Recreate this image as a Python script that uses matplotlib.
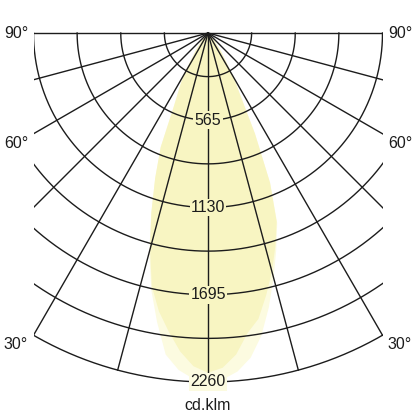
import numpy as np
import matplotlib
matplotlib.use("Agg")
import matplotlib.pyplot as plt
from matplotlib.patches import Rectangle

plt.rcParams['font.family'] = ['Liberation Sans', 'DejaVu Sans']

# polar grid data (cd/klm, degrees from nadir)
ring_values = [282.5, 565, 847.5, 1130, 1412.5, 1695, 1977.5, 2260]
ring_labels = ['565', '1130', '1695', '2260']
spoke_angles = list(range(-90, 91, 15))
angle_labels = ['90°', '60°', '30°']
angle_label_pos = [90, 60, 30]
r_max = 2260
half_width = 1130  # grid is cut at r_max * sin(30°)

# luminous intensity curves (degrees, cd/klm)
beam_angles = [-50, -45, -40, -35, -30, -27.5, -25, -22.5, -20, -17.5, -15, -12.5,
               -10, -7.5, -5, -2.5, 0, 2.5, 5, 7.5, 10, 12.5, 15, 17.5, 20,
               22.5, 25, 27.5, 30, 35, 40, 45, 50]
beam_outer = [0, 20, 60, 140, 320, 400, 520, 800, 1000, 1220, 1470, 1700,
              1900, 2100, 2190, 2240, 2260, 2245, 2200, 2120, 1990, 1820, 1640, 1470, 1310,
              1050, 720, 450, 330, 150, 60, 20, 0]
beam_inner = [0, 20, 60, 140, 320, 400, 520, 800, 1000, 1220, 1450, 1680,
              1830, 1950, 2070, 2160, 2200, 2170, 2090, 1960, 1880, 1740, 1600, 1450, 1300,
              1050, 720, 450, 330, 150, 60, 20, 0]

light = '#fcfbe0'
dark = '#f8f5c2'
ink = '#1c1c1c'

scale = 349 / 2260.0  # px per cd/klm
fig = plt.figure(figsize=(4.16, 4.16), dpi=100)
ax = fig.add_axes([0, 0, 1, 1])
ax.set_xlim(-208 / scale, 208 / scale)
ax.set_ylim(-(416 - 33) / scale, 33 / scale)
ax.axis('off')


def to_xy(ang, r):
    t = np.radians(np.asarray(ang, dtype=float))
    r = np.asarray(r, dtype=float)
    return r * np.sin(t), -r * np.cos(t)


# beam fills
for vals, col in [(beam_outer, light), (beam_inner, dark)]:
    x, y = to_xy(beam_angles, vals)
    ax.fill(np.r_[0, x, 0], np.r_[0, y, 0], color=col, lw=0, zorder=1)

clip = Rectangle((-half_width, -r_max - 50), 2 * half_width, r_max + 60,
                 transform=ax.transData)

# rings
th = np.linspace(-90, 90, 721)
for r in ring_values:
    x, y = to_xy(th, np.full_like(th, r))
    ln, = ax.plot(x, y, color=ink, lw=1.0, zorder=2)
    ln.set_clip_path(clip)

# spokes
for a in spoke_angles:
    x, y = to_xy([a, a], [0, r_max])
    ln, = ax.plot(x, y, color=ink, lw=1.0, zorder=2)
    ln.set_clip_path(clip)

# ring labels
for lab in ring_labels:
    v = float(lab)
    fc = light if v >= 2260 else dark
    ax.text(0, -v, lab, ha='center', va='center', fontsize=11.5, color=ink, zorder=3,
            bbox=dict(boxstyle='square,pad=0.08', fc=fc, ec='none'))

# angle labels
for lab, a in zip(angle_labels, angle_label_pos):
    y_end = -half_width / np.tan(np.radians(a)) if a < 90 else 0.0
    y_txt = y_end - (62 if a < 90 else 0)
    ax.text(-half_width - 35, y_txt, lab, ha='right', va='center', fontsize=11.5, color=ink)
    ax.text(half_width + 35, y_txt, lab, ha='left', va='center', fontsize=11.5, color=ink)

ax.text(0, -2409, 'cd.klm', ha='center', va='center', fontsize=11.5, color=ink)

fig.savefig('out.png', dpi=100)
